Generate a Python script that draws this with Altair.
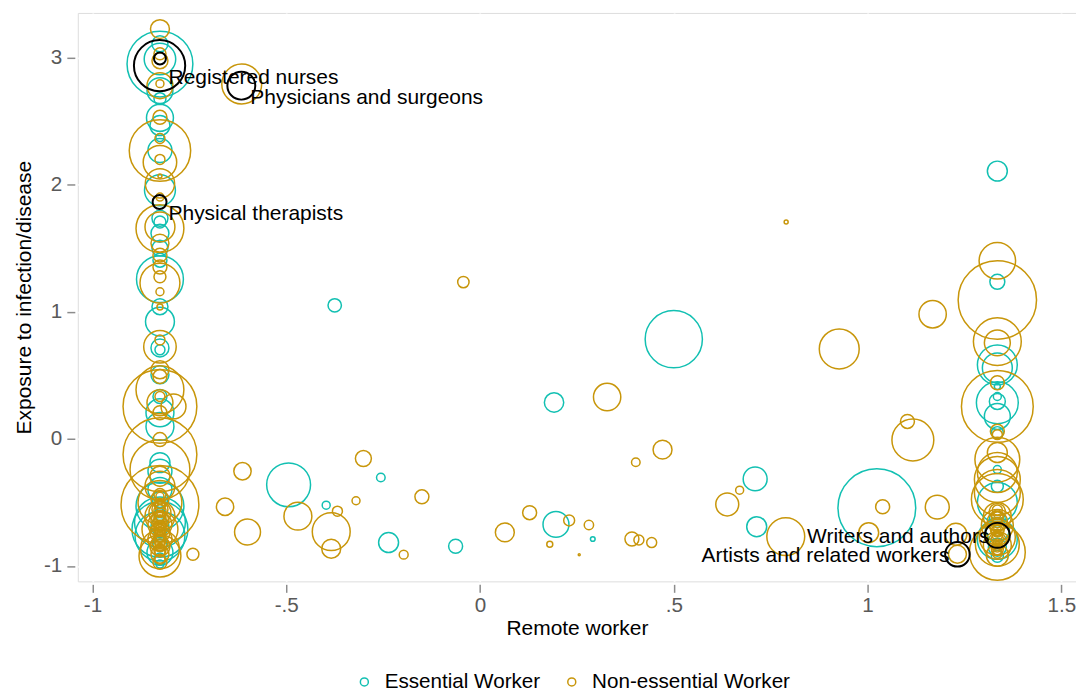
import altair as alt
import pandas as pd

# ---------------- data ----------------
# Essential workers (teal): left column (remote worker ~ -0.826)
ess_left_y = [2.948, 2.987, 3.107, 2.739, 2.676, 2.525, 2.464, 2.370, 2.268, 1.955,
              1.735, 1.706, 1.617, 1.500, 1.405, 1.256, 1.039, 0.922, 0.715, 0.700,
              0.504, 0.333, 0.205, 0.098, -0.187, -0.255, -0.398, -0.529, -0.657, -0.712,
              -0.765, -0.893, -0.477, -0.595, -0.689, -0.830, -0.946, -0.985]
ess_left_emp = [2178, 500, 128, 338, 72, 365, 200, 32, 288, 480,
                128, 72, 162, 128, 98, 1105, 128, 420, 162, 50,
                162, 98, 392, 392, 200, 288, 288, 1152, 1300, 1568,
                1250, 338, 128, 72, 162, 98, 72, 32]
ess_left_x = [-0.826] * len(ess_left_y)

# Essential workers: right column (remote worker ~ 1.335)
ess_right_y = [2.106, 1.235, 0.582, 0.558, 0.412, 0.333, 0.294, 0.284, 0.176, 0.049,
               -0.242, -0.373, -0.500, -0.791, -0.634, -0.712, -0.853, -0.924]
ess_right_emp = [200, 112, 800, 450, 18, 32, 128, 882, 338, 72,
                 32, 72, 800, 800, 128, 288, 162, 72]
ess_right_x = [1.335] * len(ess_right_y)

# Essential workers: scattered
ess_mid_x = [-0.375, 0.500, 0.191, -0.256, -0.397, -0.236, -0.063, 0.196, 0.291, 0.710,
             0.714, 1.024, -0.494]
ess_mid_y = [1.050, 0.784, 0.286, -0.304, -0.522, -0.816, -0.845, -0.673, -0.788, -0.315,
             -0.691, -0.542, -0.362]
ess_mid_emp = [90, 1647, 188, 37, 32, 200, 98, 338, 11, 288, 200, 3042, 968]

# Non-essential workers (gold): left column
non_left_y = [3.223, 3.029, 2.974, 2.794, 2.778, 2.529, 2.362, 2.268, 2.198, 2.176,
              2.067, 2.009, 1.902, 1.667, 1.654, 1.539, 1.445, 1.351, 1.275, 1.225,
              1.157, 1.037, 0.778, 0.725, 0.543, 0.490, 0.386, 0.333, 0.284, 0.255,
              0.205, -0.006, -0.124, -0.242, -0.294, -0.373, -0.500, -0.516, -0.608, -0.712,
              -0.869, -0.922, -0.438, -0.477, -0.532, -0.555, -0.579, -0.618, -0.642, -0.673,
              -0.697, -0.735, -0.759, -0.790, -0.814, -0.845, -0.877, -0.908, -0.947, -0.971,
              -0.452, -0.490, -0.510, -0.545, -0.565, -0.590, -0.605, -0.630, -0.655, -0.665,
              -0.685, -0.705, -0.720, -0.745, -0.770, -0.780, -0.800, -0.825, -0.855, -0.890]
non_left_emp = [180, 72, 128, 32, 338, 98, 50, 1897, 50, 564,
                8, 432, 32, 450, 1152, 162, 98, 98, 72, 800,
                32, 18, 50, 531, 162, 98, 1152, 50, 338, 2738,
                98, 98, 2738, 1800, 200, 450, 968, 3042, 450, 648,
                760, 882, 72, 162, 50, 128, 242, 72, 162, 288,
                98, 200, 72, 288, 128, 200, 72, 162, 50, 98,
                32, 18, 50, 32, 72, 18, 50, 32, 98, 18,
                50, 32, 72, 18, 50, 32, 72, 50, 32, 50]
non_left_x = [-0.826] * len(non_left_y)

# Non-essential workers: right column
non_right_y = [1.400, 1.092, 0.765, 0.755, 0.441, 0.255, 0.059, 0.033, -0.108, -0.163,
               -0.265, -0.320, -0.422, -0.477, -0.893, -0.571, -0.610, -0.649, -0.681, -0.712,
               -0.744, -0.775, -0.806, -0.838, -0.869, -0.916, -0.829,
               -0.560, -0.590, -0.620, -0.660, -0.690, -0.725, -0.735, -0.760, -0.790, -0.820,
               -0.850, -0.880, -0.900]
non_right_emp = [670, 3089, 1152, 338, 98, 2592, 98, 50, 200, 1012,
                 800, 1058, 1058, 1352, 1568, 128, 392, 200, 512, 98,
                 288, 648, 162, 392, 72, 242, 968,
                 50, 32, 72, 50, 32, 72, 18, 50, 72, 32,
                 50, 32, 50]
non_right_x = [1.335] * len(non_right_y)

# Non-essential workers: scattered
non_mid_x = [-0.043, 0.927, 0.328, 0.471, 0.402, -0.301, -0.150, -0.320, -0.368, -0.384,
             -0.384, -0.197, 0.064, 0.128, 0.230, 0.180, 0.281, 0.256, 0.392, 0.410,
             0.443, 0.670, 0.638, 0.789, 1.003, 1.168, 1.117, 1.103, 1.039, 1.180,
             1.228, 1.232, 0.790, -0.613, -0.658, -0.600, -0.470, -0.615, -0.791, -0.741]
non_mid_y = [1.233, 0.707, 0.329, -0.085, -0.184, -0.155, -0.456, -0.487, -0.569, -0.730,
             -0.864, -0.911, -0.736, -0.581, -0.642, -0.830, -0.678, -0.911, -0.788, -0.796,
             -0.816, -0.404, -0.516, -0.769, -0.738, 0.980, -0.009, 0.137, -0.534, -0.537,
             -0.751, -0.908, 1.706, -0.255, -0.534, -0.733, -0.608, 2.791, 0.255, -0.908]
non_mid_emp = [65, 800, 375, 180, 37, 128, 98, 32, 50, 722,
               180, 40, 180, 98, 60, 18, 44, 2, 98, 50,
               50, 32, 265, 722, 200, 375, 882, 98, 98, 288,
               242, 162, 8, 151, 151, 338, 392, 800, 312, 72]

# Highlighted occupations (black circles)
hl_x = [-0.827, -0.826, -0.616, -0.827, 1.335, 1.232]
hl_y = [2.935, 2.992, 2.778, 1.863, -0.759, -0.908]
hl_emp = [1321, 72, 392, 98, 312, 303]

# Labels
lab_right_text = ["Registered nurses", "Physicians and surgeons", "Physical therapists"]
lab_right_x = [-0.827, -0.616, -0.827]
lab_right_y = [2.935, 2.778, 1.863]
lab_left_text = ["Writers and authors", "Artists and related workers"]
lab_left_x = [1.335, 1.232]
lab_left_y = [-0.759, -0.908]

groups = ["Essential Worker", "Non-essential Worker"]
colors = ["#12C0B2", "#C8960A"]

# ---------------- tables ----------------
ess_x = ess_left_x + ess_right_x + ess_mid_x
ess_y = ess_left_y + ess_right_y + ess_mid_y
ess_emp = ess_left_emp + ess_right_emp + ess_mid_emp
non_x = non_left_x + non_right_x + non_mid_x
non_y = non_left_y + non_right_y + non_mid_y
non_emp = non_left_emp + non_right_emp + non_mid_emp

pts = pd.DataFrame({
    "remote": ess_x + non_x,
    "exposure": ess_y + non_y,
    "emp": ess_emp + non_emp,
    "group": [groups[0]] * len(ess_x) + [groups[1]] * len(non_x),
})
hl = pd.DataFrame({"remote": hl_x, "exposure": hl_y, "emp": hl_emp})
lab_r = pd.DataFrame({"remote": lab_right_x, "exposure": lab_right_y, "label": lab_right_text})
lab_l = pd.DataFrame({"remote": lab_left_x, "exposure": lab_left_y, "label": lab_left_text})

FONT = "Liberation Sans"

xscale = alt.Scale(domain=[-1.038, 1.538], nice=False, zero=False)
yscale = alt.Scale(domain=[-1.121, 3.350], nice=False, zero=False)
sscale = alt.Scale(type="linear", domain=[0, 3200], range=[0, 6400], zero=True)

xlab = ("datum.value == -1 ? '-1' : datum.value == -0.5 ? '-.5' : datum.value == 0 ? '0' : "
        "datum.value == 0.5 ? '.5' : datum.value == 1 ? '1' : '1.5'")
ylab = "datum.value == -1 ? '-1' : format(datum.value, 'd')"

xaxis = alt.Axis(values=[-1, -0.5, 0, 0.5, 1, 1.5], labelExpr=xlab, title="Remote worker",
                 tickSize=8, offset=3, domain=False, tickColor="#8c8c8c", tickWidth=1.5,
                 labelFontSize=20.7, labelColor="#595959", labelPadding=3, labelFont=FONT,
                 titleFontSize=21, titleFontWeight="normal", titleColor="black", titleFont=FONT,
                 titlePadding=3, grid=True, gridColor="white", gridWidth=1.8)
yaxis = alt.Axis(values=[-1, 0, 1, 2, 3], labelExpr=ylab, title="Exposure to infection/disease",
                 tickSize=8, offset=3, domain=False, tickColor="#8c8c8c", tickWidth=1.5,
                 labelFontSize=20.7, labelColor="#595959", labelPadding=5, labelFont=FONT,
                 titleFontSize=21, titleFontWeight="normal", titleColor="black", titleFont=FONT,
                 titlePadding=9, grid=True, gridColor="white", gridWidth=1.8)

points = alt.Chart(pts).mark_point(shape="circle", filled=False, strokeWidth=1.5, opacity=1).encode(
    x=alt.X("remote:Q", scale=xscale, axis=xaxis),
    y=alt.Y("exposure:Q", scale=yscale, axis=yaxis),
    size=alt.Size("emp:Q", scale=sscale, legend=None),
    color=alt.Color("group:N", scale=alt.Scale(domain=groups, range=colors),
                    legend=alt.Legend(orient="none", legendX=277, legendY=660, direction="horizontal",
                                      title=None, symbolType="circle", symbolSize=64,
                                      symbolStrokeWidth=1.5, labelFontSize=20.7, labelFont=FONT,
                                      labelColor="black", labelOffset=10, columnPadding=21,
                                      labelLimit=0)),
)

black = alt.Chart(hl).mark_point(shape="circle", filled=False, strokeWidth=2, opacity=1, color="black").encode(
    x=alt.X("remote:Q", scale=xscale),
    y=alt.Y("exposure:Q", scale=yscale),
    size=alt.Size("emp:Q", scale=sscale, legend=None),
)

txt_r = alt.Chart(lab_r).mark_text(align="left", baseline="middle", dx=9, dy=12, fontSize=21,
                                   font=FONT, color="black").encode(
    x=alt.X("remote:Q", scale=xscale), y=alt.Y("exposure:Q", scale=yscale), text="label:N")
txt_l = alt.Chart(lab_l).mark_text(align="right", baseline="middle", dx=-8, dy=2, fontSize=21,
                                   font=FONT, color="black").encode(
    x=alt.X("remote:Q", scale=xscale), y=alt.Y("exposure:Q", scale=yscale), text="label:N")

chart = alt.layer(points, black, txt_r, txt_l).properties(
    width=1001, height=570,
    autosize=alt.AutoSizeParams(type="none"),
    padding={"left": 70, "top": 4, "right": 0, "bottom": 110},
).configure_view(fill="#E1E1E1", stroke="white", strokeWidth=1).configure(background="white")

chart.save("out.html", embed_options={"renderer": "svg", "actions": False})
